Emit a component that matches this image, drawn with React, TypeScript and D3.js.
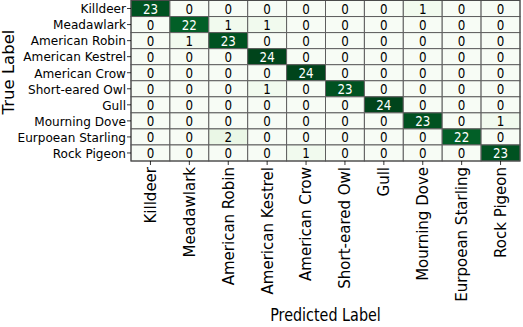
import * as d3 from "d3";

const labels = [
  "Killdeer",
  "Meadawlark",
  "American Robin",
  "American Kestrel",
  "American Crow",
  "Short-eared Owl",
  "Gull",
  "Mourning Dove",
  "Eurpoean Starling",
  "Rock Pigeon",
];

// rows = true label, columns = predicted label
const counts = [
  [23, 0, 0, 0, 0, 0, 0, 1, 0, 0],
  [0, 22, 1, 1, 0, 0, 0, 0, 0, 0],
  [0, 1, 23, 0, 0, 0, 0, 0, 0, 0],
  [0, 0, 0, 24, 0, 0, 0, 0, 0, 0],
  [0, 0, 0, 0, 24, 0, 0, 0, 0, 0],
  [0, 0, 0, 1, 0, 23, 0, 0, 0, 0],
  [0, 0, 0, 0, 0, 0, 24, 0, 0, 0],
  [0, 0, 0, 0, 0, 0, 0, 23, 0, 1],
  [0, 0, 2, 0, 0, 0, 0, 0, 22, 0],
  [0, 0, 0, 0, 1, 0, 0, 0, 0, 23],
];

const xAxisTitle = "Predicted Label";
const yAxisTitle = "True Label";

const width = 523;
const height = 327;
const margin = { top: 0.5, right: 3, bottom: 166, left: 131 };
const font = "DejaVu Sans";

export default function App() {
  const x = d3
    .scaleBand<string>()
    .domain(labels)
    .range([margin.left, width - margin.right]);
  const y = d3
    .scaleBand<string>()
    .domain(labels)
    .range([margin.top, height - margin.bottom]);

  const maxVal = d3.max(counts.flat()) ?? 1;
  const color = d3.scaleSequential(d3.interpolateGreens).domain([0, maxVal]);

  const cells = counts.flatMap((row, i) =>
    row.map((v, j) => ({ t: labels[i], p: labels[j], v }))
  );

  const [x0, x1] = x.range();
  const [y0, y1] = y.range();

  return (
    <svg
      width={width}
      height={height}
      style={{ position: "absolute", left: 0, top: 0, background: "#fff" }}
      fontFamily={font}
    >
      {/* heatmap cells */}
      {cells.map((c, k) => (
        <rect
          key={k}
          x={x(c.p)}
          y={y(c.t)}
          width={x.bandwidth()}
          height={y.bandwidth()}
          fill={color(c.v)}
          stroke="#5e5e5e"
          strokeWidth={1}
        />
      ))}
      <rect
        x={x0}
        y={y0}
        width={x1 - x0}
        height={y1 - y0}
        fill="none"
        stroke="#4a4a4a"
        strokeWidth={1}
      />

      {/* cell values */}
      {cells.map((c, k) => {
        const cx = (x(c.p) ?? 0) + x.bandwidth() / 2;
        const cy = (y(c.t) ?? 0) + y.bandwidth() / 2;
        return (
          <text
            key={"v" + k}
            transform={`translate(${cx},${cy}) scale(0.85,1)`}
            textAnchor="middle"
            dy="0.37em"
            fontSize={14}
            fill={c.v > maxVal / 2 ? "#fff" : "#000"}
          >
            {c.v}
          </text>
        );
      })}

      {/* y axis ticks */}
      {labels.map((l) => {
        const cy = (y(l) ?? 0) + y.bandwidth() / 2;
        return (
          <g key={"y" + l}>
            <line x1={x0 - 4} x2={x0} y1={cy} y2={cy} stroke="#000" strokeWidth={0.8} />
            <text
              transform={`translate(${x0 - 5},${cy}) scale(0.93,1)`}
              dy="0.37em"
              textAnchor="end"
              fontSize={13}
              fill="#000"
            >
              {l}
            </text>
          </g>
        );
      })}

      {/* x axis ticks */}
      {labels.map((l) => {
        const cx = (x(l) ?? 0) + x.bandwidth() / 2;
        return (
          <g key={"x" + l}>
            <line x1={cx} x2={cx} y1={y1} y2={y1 + 4} stroke="#000" strokeWidth={0.8} />
            <text
              transform={`translate(${cx},${y1 + 6}) rotate(-90)`}
              dy="0.36em"
              textAnchor="end"
              fontSize={15}
              fill="#000"
            >
              {l}
            </text>
          </g>
        );
      })}

      {/* axis titles */}
      <text
        transform={`translate(${(x0 + x1) / 2},${321}) scale(0.82,1)`}
        textAnchor="middle"
        fontSize={17.5}
        fill="#000"
      >
        {xAxisTitle}
      </text>
      <text
        transform={`translate(${14},${72}) rotate(-90)`}
        textAnchor="middle"
        fontSize={16.5}
        fill="#000"
      >
        {yAxisTitle}
      </text>
    </svg>
  );
}
